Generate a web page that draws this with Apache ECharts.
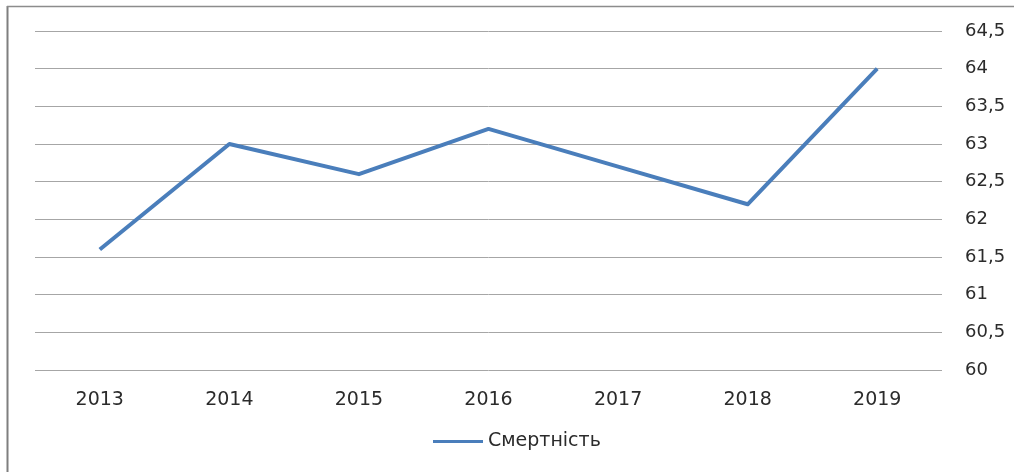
<!DOCTYPE html>
<html>
<head>
<meta charset="utf-8">
<style>
  html, body { margin: 0; padding: 0; background: #ffffff; }
  #chart { width: 1014px; height: 472px; }
</style>
<script src="https://cdn.jsdelivr.net/npm/echarts@6/dist/echarts.min.js"></script>
</head>
<body>
<div id="chart"></div>
<script>
// Years on the category axis
const years = ['2013', '2014', '2015', '2016', '2017', '2018', '2019'];
// Mortality values per year
const mortality = [61.6, 63.0, 62.6, 63.2, 62.7, 62.2, 64.0];
const seriesName = 'Смертність';
// Value axis range
const yMin = 60, yMax = 64.5, yStep = 0.5;

const chart = echarts.init(document.getElementById('chart'), null, { renderer: 'canvas' });
const labelFont = '"DejaVu Sans", sans-serif';
const textColor = '#2b2b2b';

chart.setOption({
  animation: false,
  backgroundColor: '#ffffff',
  graphic: [
    // frame lines along the left and top edges
    { type: 'line', shape: { x1: 7.5, y1: 6, x2: 7.5, y2: 472 }, style: { stroke: '#7f7f7f', lineWidth: 2 } },
    { type: 'line', shape: { x1: 7, y1: 6.5, x2: 1014, y2: 6.5 }, style: { stroke: '#8c8c8c', lineWidth: 1.5 } }
  ],
  grid: { left: 35, right: 72, top: 31, bottom: 102, containLabel: false },
  legend: {
    data: [seriesName],
    bottom: 21,
    left: 433,
    padding: 0,
    itemWidth: 50,
    itemHeight: 3,
    itemGap: 5,
    icon: 'rect',
    textStyle: { color: textColor, fontSize: 19, fontFamily: labelFont }
  },
  xAxis: {
    type: 'category',
    data: years,
    boundaryGap: true,
    axisLine: { show: false },
    axisTick: { show: false },
    axisLabel: { color: textColor, fontSize: 19, fontFamily: labelFont, margin: 21 }
  },
  yAxis: {
    type: 'value',
    position: 'right',
    min: yMin,
    max: yMax,
    interval: yStep,
    axisLine: { show: false },
    axisTick: { show: false },
    axisLabel: {
      color: textColor, fontSize: 18, fontFamily: labelFont, margin: 23,
      formatter: v => String(v).replace('.', ',')
    },
    splitLine: { lineStyle: { color: '#a6a6a6', width: 1 } }
  },
  series: [{
    name: seriesName,
    type: 'line',
    data: mortality,
    symbol: 'none',
    lineStyle: { color: '#4a7ebb', width: 4, join: 'round' },
    itemStyle: { color: '#4a7ebb' }
  }]
});
</script>
</body>
</html>
